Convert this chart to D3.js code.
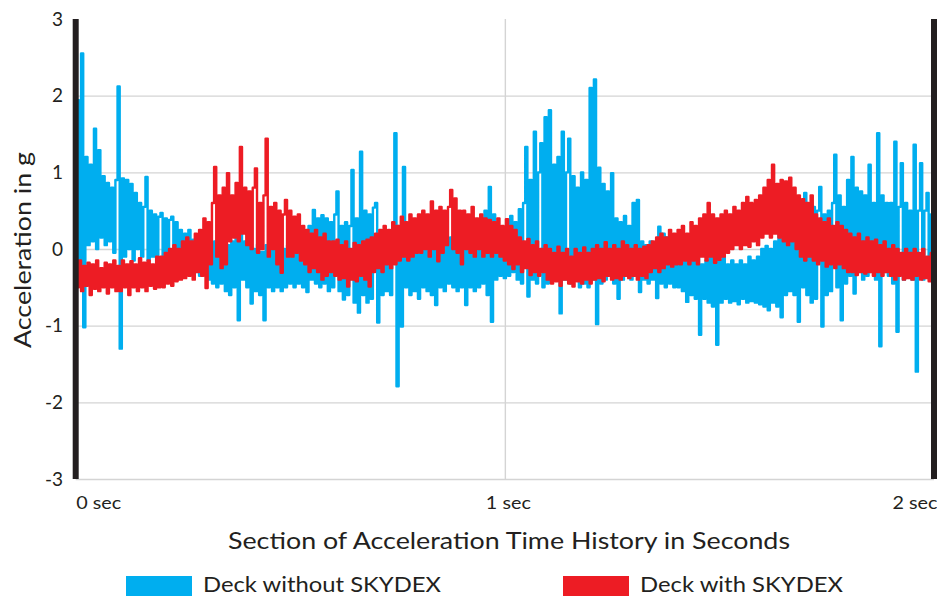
<!DOCTYPE html>
<html>
<head>
<meta charset="utf-8">
<script src="https://cdn.jsdelivr.net/npm/d3@7/dist/d3.min.js"></script>
<style>
  body { margin: 0; background: #fff; }
  svg { display: block; }
  text { font-family: Lato, "Open Sans", sans-serif; fill: #231f20; }
</style>
</head>
<body>
<svg id="chart" width="937" height="597"></svg>
<script>
// ---- data (acceleration in g, sampled every 0.005 s from 0 to 2 s) ----
const sampleStep = 0.005;
const seriesNames = ["Deck without SKYDEX", "Deck with SKYDEX"];
const yTickValues = [-3, -2, -1, 0, 1, 2, 3];
const xTickValues = [0, 1, 2];
const xTickLabels = ["0 sec", "1 sec", "2 sec"];

const deckWithout = [
  1.25,1.94,-0.25,2.55,-1.02,1.2,0.05,1.1,0.1,1.57,0.0,1.29,0.15,0.95,0.05,0.86,0.1,0.8,-0.05,0.9,
  2.12,-1.3,0.92,-0.1,0.9,0.0,0.85,-0.15,0.73,0.0,0.6,-0.1,0.55,0.94,-0.15,0.5,-0.1,0.45,-0.2,0.42,
  0.47,-0.15,0.4,-0.1,0.38,0.42,-0.2,0.35,-0.15,0.25,-0.2,0.2,-0.25,0.25,-0.2,0.12,-0.3,0.1,-0.35,0.05,
  -0.3,0.1,-0.4,0.05,-0.45,0.1,-0.5,0.0,-0.45,0.1,-0.55,0.05,-0.6,0.1,-0.5,0.2,-0.93,0.37,-0.4,0.1,
  -0.5,0.05,-0.71,0.0,-0.55,0.06,-0.6,-0.04,-0.93,0.05,-0.5,0.0,-0.55,0.05,-0.5,-0.05,-0.55,0.0,-0.5,0.05,
  -0.45,0.0,-0.5,0.03,-0.45,0.05,-0.5,0.1,-0.56,0.3,-0.4,0.51,-0.45,0.4,-0.5,0.44,-0.45,0.4,-0.55,0.35,
  -0.5,0.45,0.75,-0.55,0.3,-0.66,0.35,-0.6,0.3,1.03,-0.7,0.4,-0.83,1.27,-0.6,0.5,-0.7,0.45,-0.65,0.54,
  0.6,-0.96,0.2,-0.6,0.18,-0.55,0.2,-0.6,0.3,1.51,-1.79,0.3,-1.01,1.07,-0.5,0.1,-0.6,0.0,-0.55,0.05,
  -0.65,0.1,-0.5,0.05,-0.55,0.1,-0.6,0.0,-0.73,0.1,-0.5,0.15,-0.55,0.1,-0.45,0.15,-0.5,0.1,-0.55,0.05,
  -0.5,0.1,-0.73,0.05,-0.5,0.1,-0.55,0.0,-0.5,0.4,-0.45,0.5,-0.6,0.81,-0.95,0.45,-0.4,0.0,-0.35,-0.05,
  -0.38,0.0,-0.35,0.43,-0.3,0.35,-0.4,0.52,-0.45,0.6,1.33,-0.62,0.9,-0.4,1.53,-0.45,1.0,1.38,-0.5,1.72,
  -0.45,1.81,-0.35,1.1,-0.4,1.2,-0.84,1.53,-0.4,1.0,1.44,-0.45,0.95,-0.4,0.8,-0.5,1.0,-0.45,0.9,-0.5,
  2.1,-0.4,2.21,-0.98,1.06,-0.45,0.85,-0.4,0.75,-0.35,0.99,-0.45,0.4,-0.65,0.35,-0.4,0.43,-0.35,0.3,-0.4,
  0.6,-0.35,0.64,-0.56,0.1,-0.4,0.05,-0.45,0.1,-0.4,0.05,-0.64,0.29,-0.45,0.2,-0.5,0.15,-0.45,0.1,-0.5,
  0.05,-0.5,0.0,-0.55,-0.05,-0.69,-0.1,-0.6,-0.15,-0.65,-0.1,-1.12,-0.2,-0.65,-0.15,-0.7,-0.1,-0.75,0.03,-1.25,
  -0.15,-0.7,-0.1,-0.65,-0.2,-0.7,-0.15,-0.68,-0.2,-0.72,-0.15,-0.65,-0.2,-0.7,-0.1,-0.68,-0.15,-0.7,-0.1,-0.72,
  0.0,-0.75,0.04,-0.8,0.0,-0.7,0.1,-0.75,0.3,-0.89,0.25,-0.6,0.1,-0.55,0.2,-0.6,0.3,-0.95,0.35,-0.5,
  0.73,-0.6,0.5,-0.7,0.55,-0.65,0.5,0.81,-1.01,0.45,-0.6,0.5,-0.55,0.6,1.23,-0.5,0.7,-0.93,0.55,-0.45,
  0.9,-0.35,1.2,-0.58,0.8,-0.3,0.75,-0.4,0.7,-0.35,1.1,-0.3,0.6,-0.4,1.51,-1.27,0.7,-0.3,0.6,-0.35,
  0.6,-0.45,1.4,-1.08,0.55,1.12,-0.4,0.6,-0.35,0.5,-0.4,1.36,-1.6,0.5,1.12,-0.4,0.5,0.73,-0.3,0.45,
  -0.2
];

const deckWith = [
  -0.2,-0.5,-0.15,-0.55,-0.22,-0.48,-0.18,-0.6,-0.2,-0.52,-0.15,-0.55,-0.25,-0.5,-0.18,-0.58,-0.2,-0.5,-0.15,-0.55,
  -0.22,-0.55,-0.15,-0.5,-0.2,-0.6,-0.16,-0.5,-0.2,-0.55,-0.12,-0.5,-0.18,-0.55,-0.15,-0.48,-0.2,-0.52,-0.1,-0.5,
  -0.1,-0.5,-0.05,-0.45,0.0,-0.48,0.05,-0.42,0.0,-0.4,0.1,-0.38,0.15,-0.35,0.1,-0.4,0.2,-0.3,0.25,-0.35,
  0.4,-0.51,0.35,-0.2,0.6,1.07,-0.1,0.7,-0.25,0.8,-0.2,0.99,0.1,0.7,0.15,0.86,0.1,1.33,0.2,0.8,
  0.05,0.75,0.0,0.8,1.05,-0.05,0.6,0.0,0.7,1.44,-0.1,0.55,0.0,0.6,-0.2,0.5,-0.31,0.45,0.64,-0.1,
  0.5,-0.1,0.42,-0.05,0.45,-0.15,0.3,-0.2,0.25,-0.3,0.2,-0.25,0.25,-0.3,0.15,-0.4,0.2,-0.35,0.1,-0.3,
  0.1,-0.35,0.12,-0.4,0.05,-0.38,0.1,-0.49,0.0,-0.4,0.08,-0.42,0.05,-0.35,0.1,-0.4,0.12,-0.49,0.15,-0.3,
  0.2,-0.25,0.25,-0.3,0.3,-0.2,0.25,-0.25,0.35,-0.2,0.3,-0.15,0.42,-0.1,0.35,-0.15,0.45,-0.1,0.4,-0.05,
  0.45,-0.05,0.5,0.0,0.45,-0.1,0.62,0.0,0.5,-0.16,0.55,-0.05,0.5,0.05,0.55,0.77,0.0,0.66,-0.05,0.5,
  -0.2,0.5,0.0,0.45,-0.05,0.55,-0.1,0.4,0.0,0.45,-0.1,0.4,-0.05,0.38,-0.1,0.35,-0.05,0.4,-0.1,0.3,
  -0.15,0.39,-0.2,0.3,-0.26,0.25,-0.2,0.15,-0.3,0.1,-0.25,0.13,-0.34,0.05,-0.3,0.1,-0.35,0.0,-0.3,0.05,
  -0.4,0.0,-0.45,-0.05,-0.42,0.03,-0.48,-0.05,-0.4,0.0,-0.45,-0.1,-0.49,0.0,-0.42,-0.05,-0.45,0.02,-0.4,-0.05,
  -0.45,0.0,-0.4,0.05,-0.38,0.0,-0.42,0.09,-0.35,0.0,-0.4,0.05,-0.38,0.0,-0.4,0.1,-0.35,0.05,-0.38,0.0,
  -0.35,0.05,-0.4,0.0,-0.35,0.03,-0.38,0.05,-0.3,0.1,-0.25,0.15,-0.3,0.2,-0.25,0.15,-0.2,0.25,-0.23,0.2,
  -0.2,0.25,-0.2,0.3,-0.15,0.2,-0.2,0.35,-0.15,0.3,-0.2,0.4,-0.1,0.45,-0.15,0.6,-0.1,0.45,-0.18,0.4,
  -0.14,0.45,-0.1,0.5,-0.05,0.45,0.0,0.55,0.05,0.5,0.0,0.6,0.05,0.68,0.03,0.6,0.1,0.64,0.05,0.7,
  0.15,0.8,0.2,0.9,0.15,1.1,0.2,0.85,0.15,0.9,0.1,0.88,0.05,0.93,0.1,0.8,0.0,0.7,-0.1,0.65,
  -0.15,0.6,-0.1,0.7,-0.15,0.45,-0.2,0.4,-0.15,0.35,-0.23,0.4,-0.2,0.3,-0.25,0.35,-0.2,0.3,-0.25,0.25,
  -0.3,0.2,-0.3,0.15,-0.34,0.2,-0.3,0.1,-0.32,0.15,-0.3,0.1,-0.35,0.12,-0.3,0.05,-0.35,0.1,-0.3,0.0,
  -0.35,0.05,-0.4,0.0,-0.35,-0.05,-0.4,0.0,-0.38,-0.05,-0.4,0.0,-0.35,-0.05,-0.4,0.0,-0.38,-0.1,-0.42,-0.05,
  -0.3
];

// ---- layout ----
const colors = ["#00aeef", "#ed1c24"];
const svg = d3.select("#chart");
const x = d3.scaleLinear().domain([0, 2]).range([75.7, 934]);
const y = d3.scaleLinear().domain([-3, 3]).range([479, 19]);

// horizontal gridlines (no line at the top value)
svg.append("g")
  .attr("transform", `translate(${x(0)},0)`)
  .call(d3.axisRight(y).tickValues(yTickValues.filter(v => v < 3)).tickSize(x(2) - x(0)).tickFormat(""))
  .call(g => g.select(".domain").remove())
  .call(g => g.selectAll("line").attr("stroke", "#d4d4d4").attr("stroke-width", 1.4));

// vertical gridline at 1 sec
svg.append("g")
  .attr("transform", `translate(0,${y(3)})`)
  .call(d3.axisBottom(x).tickValues([1]).tickSize(y(-3) - y(3)).tickFormat(""))
  .call(g => g.select(".domain").remove())
  .call(g => g.selectAll("line").attr("stroke", "#d4d4d4").attr("stroke-width", 1.4));

// series (dense signal: drawn as a step trace so that the oscillations fill in)
const line = d3.line()
  .x((d, i) => x(i * sampleStep))
  .y(d => y(d))
  .curve(d3.curveStep);

[deckWithout, deckWith].forEach((vals, k) => {
  svg.append("path")
    .datum(vals)
    .attr("d", line)
    .attr("fill", "none")
    .attr("stroke", colors[k])
    .attr("stroke-width", 2.4)
    .attr("stroke-linejoin", "round")
    .attr("stroke-linecap", "round");
});

// black boundary bars at 0 s and 2 s
svg.selectAll("rect.bar")
  .data([0, 2])
  .join("rect")
  .attr("class", "bar")
  .attr("x", d => x(d) - 3)
  .attr("y", y(3))
  .attr("width", 6)
  .attr("height", y(-3) - y(3))
  .attr("fill", "#231f20");

// y tick labels
svg.append("g")
  .attr("transform", `translate(63,0)`)
  .call(d3.axisLeft(y).tickValues(yTickValues).tickSize(0).tickPadding(0).tickFormat(d => String(d)))
  .call(g => g.select(".domain").remove())
  .call(g => g.selectAll("text")
    .attr("font-size", 19)
    .attr("font-family", "Lato, sans-serif")
    .attr("fill", "#231f20"));

// x tick labels
const xAxisG = svg.append("g")
  .attr("transform", `translate(0,${y(-3)})`)
  .call(d3.axisBottom(x).tickValues(xTickValues).tickSize(0).tickPadding(0)
    .tickFormat((d, i) => xTickLabels[i]))
  .call(g => g.select(".domain").remove());
xAxisG.selectAll("text")
  .attr("font-size", 18)
  .attr("font-family", "Lato, sans-serif")
  .attr("fill", "#231f20")
  .attr("dy", null)
  .attr("y", 30)
  .attr("textLength", 45)
  .attr("lengthAdjust", "spacingAndGlyphs")
  .attr("text-anchor", (d, i) => i === 0 ? "start" : (i === xTickValues.length - 1 ? "end" : "middle"))
  .attr("x", (d, i) => i === 0 ? 0 : 3);

// axis titles
svg.append("text")
  .attr("x", 228).attr("y", 549)
  .attr("font-size", 24)
  .attr("textLength", 562).attr("lengthAdjust", "spacingAndGlyphs")
  .text("Section of Acceleration Time History in Seconds");

svg.append("text")
  .attr("transform", "translate(31,348) rotate(-90)")
  .attr("font-size", 24)
  .attr("textLength", 196).attr("lengthAdjust", "spacingAndGlyphs")
  .text("Acceleration in g");

// legend
const legendItems = [
  { name: seriesNames[0], color: colors[0], rx: 126, tx: 203, tw: 238 },
  { name: seriesNames[1], color: colors[1], rx: 563, tx: 640, tw: 203 }
];
const lg = svg.append("g");
legendItems.forEach(it => {
  lg.append("rect").attr("x", it.rx).attr("y", 576).attr("width", 66).attr("height", 20).attr("fill", it.color);
  lg.append("text").attr("x", it.tx).attr("y", 592).attr("font-size", 22)
    .attr("textLength", it.tw).attr("lengthAdjust", "spacingAndGlyphs")
    .text(it.name);
});
</script>
</body>
</html>
